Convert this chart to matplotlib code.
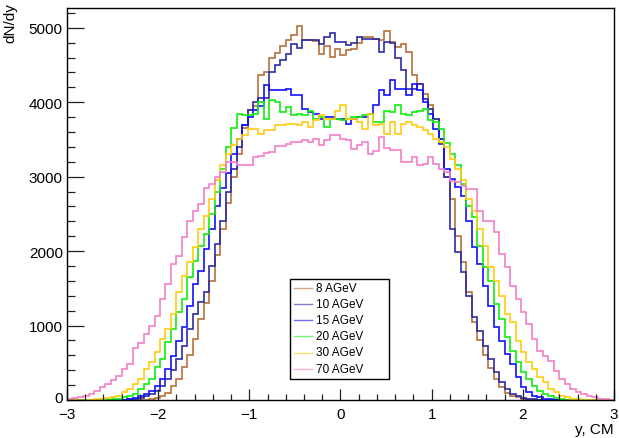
import numpy as np
import matplotlib
matplotlib.use("Agg")
import matplotlib.pyplot as plt
import matplotlib.transforms as mtransforms
from matplotlib.patches import Rectangle
from matplotlib.lines import Line2D

# ---------------- data ----------------
edges = np.linspace(-3, 3, 101)
labels = ["8 AGeV", "10 AGeV", "15 AGeV", "20 AGeV", "30 AGeV", "70 AGeV"]
colors = ["#b8703c", "#2c2ca6", "#1010ff", "#10ee10", "#ffcc10", "#f57fc6"]

e8 = [0]*14 + [5, 15, 30, 50, 100, 190, 280, 440, 600, 820, 1090, 1300, 1600, 1950, 2300, 2650,
      3000, 3300, 3650, 3900, 3950, 4360, 4400, 4600, 4660, 4750, 4830, 4900, 5020, 4830,
      4830, 4820, 4650, 4760, 4610, 4720, 4630, 4700, 4720, 4790, 4875, 4875, 4845, 4830, 4950,
      4810, 4740, 4785, 4670, 4360, 4250, 4110, 3960, 3780, 3500, 3000, 2700, 2200, 1850, 1450,
      1050, 800, 600, 430, 280, 170, 100, 60, 35, 20, 10, 5] + [0]*14

e10 = [0]*11 + [8, 15, 30, 50, 80, 125, 190, 282, 400, 550, 730, 954, 1156, 1317, 1450, 1800,
       2100, 2400, 2800, 3100, 3400, 3700, 3900, 4000, 4050, 4060, 4404, 4494, 4561, 4650, 4785,
       4725, 4830, 4830, 4830, 4785, 4875, 4930, 4815, 4807, 4763, 4797, 4875, 4852, 4852, 4852,
       4673, 4807, 4800, 4600, 4427, 4180, 4180, 4247, 4046, 3911, 3777, 3441, 3000, 2298, 1985,
       1716, 1402, 1111, 932, 730, 551, 372, 236, 148, 80, 48, 30, 15, 8] + [0]*14

e15 = [0]*11 + [15, 30, 57, 80, 125, 192, 282, 416, 595, 797, 976, 1267, 1558, 1738, 2030, 2300,
       2600, 2850, 3050, 3300, 3500, 3700, 3800, 3900, 3950, 4225, 4157, 4157, 4157, 4180, 4090,
       4090, 3911, 3866, 3844, 3777, 3800, 3800, 3777, 3777, 3710, 3777, 3800, 3800, 3844, 3956,
       4157, 4090, 4292, 4180, 4180, 4090, 4247, 4157, 4001, 3844, 3643, 3509, 3105, 2970, 2858,
       2746, 2410, 2052, 1828, 1537, 1268, 976, 797, 618, 484, 304, 170, 103, 57, 35, 20, 10, 5] + [0]*10

e20 = [0]*8 + [10, 20, 35, 57, 80, 148, 215, 282, 440, 551, 775, 954, 1178, 1357, 1649, 1873,
       2075, 2231, 2500, 2800, 3100, 3400, 3650, 3844, 3822, 3822, 3844, 4001, 3777, 4023, 4001,
       3866, 3933, 3822, 3844, 3822, 3888, 3777, 3800, 3665, 3777, 3777, 3755, 3777, 3800, 3800,
       3822, 3844, 3732, 3732, 3888, 3866, 3956, 3844, 3822, 3866, 3888, 3911, 3755, 3732, 3643,
       3450, 3307, 3150, 2900, 2612, 2455, 2075, 1784, 1604, 1290, 1089, 842, 663, 506, 372, 282,
       192, 125, 80, 48, 25, 12, 5] + [0]*8

e30 = [0]*5 + [10, 15, 25, 35, 57, 103, 148, 215, 282, 416, 506, 640, 820, 954, 1156, 1447, 1670,
       1850, 2052, 2298, 2477, 2700, 2950, 3150, 3300, 3420, 3509, 3553, 3643, 3643, 3575, 3620,
       3620, 3687, 3687, 3710, 3710, 3687, 3732, 3665, 3755, 3822, 3777, 3777, 3888, 3956, 3777,
       3777, 3732, 3643, 3844, 3687, 3710, 3575, 3732, 3575, 3710, 3732, 3687, 3665, 3620, 3575,
       3509, 3463, 3396, 3240, 3100, 2950, 2702, 2545, 2298, 2075, 1784, 1604, 1402, 1156, 1044,
       797, 640, 506, 416, 304, 236, 148, 103, 57, 35, 20, 10, 5] + [0]*5

e70 = [15, 25, 35, 50, 80, 120, 170, 215, 273, 327, 417, 484, 700, 760, 887, 999, 1133, 1357,
       1559, 1828, 1940, 2186, 2410, 2545, 2634, 2845, 2900, 2997, 3060, 3200, 3200, 3150, 3150,
       3150, 3266, 3280, 3320, 3330, 3418, 3418, 3440, 3467, 3467, 3490, 3467, 3508, 3420, 3490,
       3553, 3560, 3508, 3490, 3374, 3420, 3467, 3306, 3350, 3530, 3380, 3360, 3360, 3200, 3200,
       3260, 3150, 3173, 3262, 3173, 3105, 3060, 2948, 2925, 2880, 2836, 2836, 2545, 2410, 2410,
       2254, 1963, 1784, 1537, 1357, 1178, 1021, 820, 663, 596, 529, 395, 282, 215, 148, 103, 80,
       57, 35, 20, 10, 5]

series = [e8, e10, e15, e20, e30, e70]

# ---------------- figure ----------------
W, H = 619, 439
plt.rcParams['font.family'] = ['Liberation Sans', 'DejaVu Sans']
fig = plt.figure(figsize=(W/100, H/100), dpi=100)
ax = fig.add_axes([67/W, (H-401)/H, (614-67)/W, (401-9)/H])

for vals, c, lab in zip(series, colors, labels):
    ax.stairs(vals, edges, color=c, lw=1.2, label=lab)

ax.set_xlim(-3, 3)
ax.set_ylim(0, 5265)
ax.set_xticks(np.arange(-3, 3.01, 1))
ax.set_xticks(np.arange(-3, 3.01, 0.2), minor=True)
ax.set_yticks(np.arange(0, 5001, 1000))
ax.set_yticks(np.arange(0, 5201, 200), minor=True)
ax.tick_params(axis='both', which='both', direction='in', top=False, right=False,
               labelsize=11, width=0.9, color='#222222')
ax.tick_params(axis='x', which='major', length=8, pad=5)
ax.tick_params(axis='x', which='minor', length=4)
ax.tick_params(axis='y', which='major', length=12, pad=3)
ax.tick_params(axis='y', which='minor', length=6)
for s in ax.spines.values():
    s.set_linewidth(1.0)

# nudge the y "0" label up by a few pixels so it clears the x "-3" label
t0 = ax.yaxis.get_major_ticks()[0]
t0.label1.set_transform(t0.label1.get_transform() +
                        mtransforms.ScaledTranslation(0, 3/100, fig.dpi_scale_trans))

fig.text(614/W, (H-430)/H, "y, CM", ha='right', va='center', fontsize=11)
fig.text(10/W, (H-3)/H, "dN/dy", ha='center', va='top', rotation=90, fontsize=11)

# legend box (pixel positions in figure)
def fx(px):
    return px / W

def fy(py):
    return (H - py) / H

fig.add_artist(Rectangle((fx(290), fy(380)), fx(389) - fx(290), fy(280) - fy(380),
                         transform=fig.transFigure, facecolor='white',
                         edgecolor='black', lw=1.0, zorder=10))
row_y = [289, 305, 321, 337, 353.5, 370]
for ry, c, lab in zip(row_y, colors, labels):
    fig.add_artist(Line2D([fx(294), fx(312)], [fy(ry), fy(ry)], color=c, lw=1.0,
                          alpha=0.6, transform=fig.transFigure, zorder=11))
    fig.text(fx(316), fy(ry), lab, ha='left', va='center', fontsize=8.5, zorder=12)

fig.savefig("out.png", dpi=100)
